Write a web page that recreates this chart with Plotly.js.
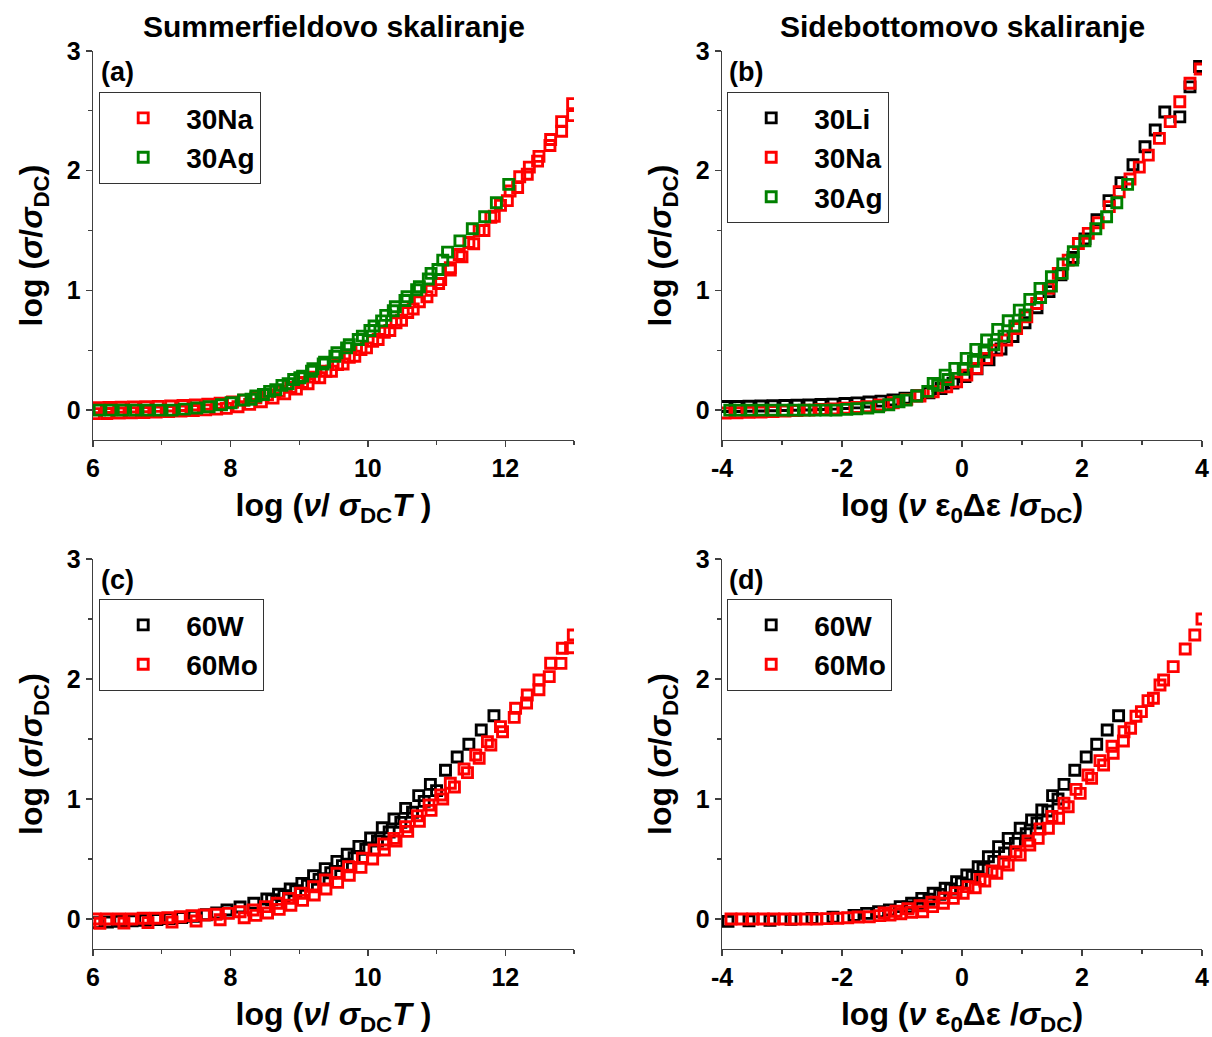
<!DOCTYPE html>
<html>
<head>
<meta charset="utf-8">
<script src="https://cdn.plot.ly/plotly-3.0.1.min.js"></script>
<style>html,body{margin:0;padding:0;background:#fff;}</style>
</head>
<body>
<div id="chart" style="width:1212px;height:1037px;"></div>
<script>
// ---------- Panel (a): Summerfield scaling ----------
const aNaX1 = [6.05,6.23,6.41,6.59,6.77,6.95,7.13,7.31,7.49,7.67,7.85,8.03,8.20,8.37,8.54,8.71,8.88,9.05,9.22,9.39,9.56,9.73,9.90,10.07,10.24,10.41,10.58,10.75,10.92,11.06,11.20,11.33,11.47,11.62,11.79,11.93,12.07,12.21,12.35,12.49,12.66,12.82,12.98];
const aNaY1 = [0.02,0.022,0.024,0.026,0.028,0.031,0.034,0.038,0.043,0.049,0.057,0.068,0.083,0.103,0.127,0.156,0.19,0.23,0.275,0.325,0.38,0.44,0.505,0.575,0.65,0.73,0.815,0.905,1.0,1.09,1.19,1.3,1.40,1.50,1.61,1.71,1.83,1.95,2.03,2.12,2.26,2.41,2.56];
const aNaX2 = [6.02,6.20,6.38,6.56,6.74,6.92,7.10,7.28,7.46,7.64,7.80,7.94,8.11,8.28,8.45,8.62,8.79,8.96,9.13,9.30,9.47,9.64,9.81,9.98,10.15,10.32,10.49,10.66,10.86,11.03,11.20,11.37,11.54,11.69,11.84,12.03,12.18,12.32,12.47,12.65,12.82,12.98];
const aNaY2 = [-0.03,-0.028,-0.025,-0.022,-0.02,-0.017,-0.013,-0.009,-0.004,0.002,0.008,0.014,0.028,0.048,0.069,0.1,0.135,0.175,0.22,0.27,0.325,0.385,0.45,0.52,0.59,0.665,0.75,0.845,0.947,1.058,1.17,1.28,1.39,1.50,1.62,1.75,1.86,1.97,2.08,2.21,2.33,2.46];
const aAgX1 = [6.09,6.26,6.44,6.62,6.80,6.97,7.15,7.33,7.51,7.69,7.87,8.01,8.19,8.37,8.57,8.75,8.92,9.05,9.20,9.37,9.55,9.73,9.92,10.09,10.26,10.40,10.57,10.75,10.92,11.09,11.16,11.34,11.52,11.70,11.87,12.05];
const aAgY1 = [0,0,0,0,0,0,0,0.008,0.017,0.028,0.045,0.061,0.084,0.117,0.156,0.206,0.256,0.284,0.345,0.401,0.479,0.546,0.618,0.702,0.791,0.863,0.947,1.03,1.142,1.253,1.32,1.414,1.515,1.615,1.732,1.886];
const aAgX2 = [8.30,8.48,8.66,8.84,9.01,9.18,9.35,9.52,9.69,9.86,10.03,10.20,10.37,10.54,10.71,10.88,11.02];
const aAgY2 = [0.09,0.13,0.17,0.22,0.27,0.325,0.385,0.45,0.52,0.59,0.665,0.745,0.83,0.915,1.005,1.095,1.175];

// ---------- Panel (b): Sidebottom scaling ----------
const bLiX = [-3.95,-3.75,-3.55,-3.35,-3.15,-2.95,-2.75,-2.55,-2.35,-2.15,-1.95,-1.75,-1.55,-1.35,-1.15,-0.95,-0.75,-0.55,-0.35,-0.15,0.05,0.25,0.45,0.65,0.85,1.05,1.25,1.45,1.65,1.85,2.05,2.25,2.45,2.65,2.85,3.05,3.22,3.38,3.63,3.80,3.96];
const bLiY = [0.03,0.03,0.032,0.034,0.036,0.038,0.04,0.043,0.046,0.05,0.055,0.06,0.067,0.075,0.085,0.1,0.12,0.145,0.18,0.225,0.28,0.345,0.42,0.51,0.615,0.73,0.855,0.99,1.13,1.275,1.43,1.59,1.75,1.9,2.05,2.2,2.34,2.49,2.45,2.70,2.87];
const bNaX = [-3.95,-3.75,-3.55,-3.35,-3.15,-2.95,-2.75,-2.55,-2.35,-2.15,-1.95,-1.75,-1.59,-1.37,-1.145,-0.92,-0.70,-0.48,-0.255,-0.09,0.08,0.245,0.41,0.58,0.745,0.91,1.08,1.245,1.44,1.605,1.77,1.94,2.105,2.27,2.455,2.62,2.80,2.955,3.105,3.29,3.47,3.63,3.80,3.97];
const bNaY = [-0.025,-0.022,-0.019,-0.016,-0.012,-0.008,-0.004,0.0,0.005,0.01,0.015,0.021,0.028,0.042,0.061,0.089,0.117,0.153,0.195,0.236,0.292,0.348,0.432,0.501,0.585,0.682,0.78,0.891,1.017,1.142,1.253,1.392,1.476,1.565,1.70,1.824,1.93,2.03,2.13,2.27,2.41,2.576,2.73,2.85];
const bAgX1 = [-3.87,-3.70,-3.52,-3.34,-3.16,-2.98,-2.81,-2.63,-2.45,-2.27,-2.10,-1.92,-1.755,-1.57,-1.39,-1.22,-1.05,-0.93,-0.755,-0.57,-0.405,-0.23,0.02,0.19,0.37,0.53,0.70,0.88,1.05,1.31,1.49,1.67,1.845,2.05,2.23,2.41,2.58,2.76];
const bAgY1 = [0,0,0,0,0,0,0,0,0,0,0,0.006,0.011,0.017,0.028,0.045,0.07,0.084,0.117,0.156,0.206,0.256,0.34,0.407,0.485,0.546,0.618,0.702,0.794,0.941,1.036,1.142,1.253,1.414,1.515,1.615,1.732,1.886];
const bAgX2 = [-0.48,-0.28,-0.12,0.07,0.23,0.41,0.595,0.77,0.955,1.13,1.30,1.49,1.68,1.855];
const bAgY2 = [0.223,0.292,0.348,0.432,0.507,0.585,0.674,0.746,0.835,0.925,1.017,1.114,1.22,1.323];

// ---------- Panel (c): Summerfield scaling ----------
const cWX1 = [6.03,6.21,6.39,6.57,6.75,6.93,7.11,7.29,7.47,7.65,7.80,7.95,8.14,8.34,8.53,8.70,8.87,9.04,9.21,9.38,9.55,9.70,9.87,10.04,10.21,10.38,10.55,10.74,10.91,11.13,11.30,11.47,11.65,11.835];
const cWY1 = [-0.03,-0.025,-0.02,-0.015,-0.01,-0.005,0.003,0.012,0.022,0.035,0.05,0.075,0.1,0.131,0.167,0.206,0.25,0.297,0.36,0.42,0.48,0.54,0.605,0.675,0.761,0.833,0.922,1.028,1.122,1.239,1.35,1.456,1.575,1.694];
const cWX2 = [8.60,8.78,8.95,9.12,9.29,9.46,9.63,9.80,9.97,10.14,10.31,10.48,10.65,10.82,11.0];
const cWY2 = [0.16,0.195,0.235,0.28,0.33,0.385,0.445,0.51,0.58,0.65,0.725,0.805,0.89,0.98,1.07];
const cMoX1 = [6.03,6.20,6.38,6.56,6.73,6.91,7.09,7.27,7.44,7.62,7.79,7.97,8.14,8.33,8.51,8.68,8.85,9.02,9.21,9.38,9.55,9.72,9.92,10.09,10.23,10.38,10.55,10.72,10.89,11.06,11.20,11.40,11.57,11.74,11.93,12.15,12.32,12.49,12.66,12.83,12.99];
const cMoY1 = [0,0,0,0,0.006,0.006,0.011,0.019,0.028,0.033,0.039,0.047,0.061,0.075,0.103,0.131,0.172,0.214,0.269,0.325,0.381,0.436,0.506,0.575,0.625,0.672,0.769,0.861,0.95,1.033,1.131,1.25,1.367,1.478,1.603,1.756,1.867,1.992,2.131,2.256,2.367];
const cMoX2 = [6.10,6.45,6.80,7.15,7.50,7.85,8.20,8.37,8.54,8.71,8.88,9.05,9.22,9.39,9.56,9.73,9.90,10.07,10.24,10.41,10.58,10.75,10.92,11.09,11.26,11.45,11.62,11.79,11.96,12.13,12.31,12.49,12.64,12.81,12.95];
const cMoY2 = [-0.035,-0.033,-0.03,-0.025,-0.017,-0.006,0.01,0.03,0.05,0.08,0.115,0.155,0.2,0.25,0.305,0.365,0.43,0.5,0.575,0.65,0.73,0.815,0.905,1.0,1.1,1.22,1.34,1.45,1.56,1.68,1.80,1.91,2.02,2.13,2.26];

// ---------- Panel (d): Sidebottom scaling ----------
const dWX1 = [-3.9,-3.55,-3.2,-2.85,-2.5,-2.15,-1.8,-1.59,-1.39,-1.21,-1.03,-0.84,-0.67,-0.48,-0.28,-0.09,0.08,0.27,0.44,0.61,0.77,0.97,1.16,1.33,1.51,1.70,1.88,2.07,2.245,2.42,2.61];
const dWY1 = [-0.02,-0.015,-0.01,-0.003,0.005,0.015,0.03,0.047,0.061,0.075,0.103,0.131,0.172,0.214,0.256,0.311,0.367,0.436,0.519,0.603,0.672,0.756,0.825,0.908,1.028,1.122,1.239,1.35,1.456,1.575,1.694];
const dWX2 = [-0.9,-0.72,-0.55,-0.37,-0.19,-0.01,0.17,0.35,0.53,0.71,0.89,1.07,1.25,1.43,1.60];
const dWY2 = [0.1,0.13,0.165,0.205,0.25,0.3,0.355,0.415,0.48,0.55,0.63,0.71,0.8,0.9,1.0];
const dMoX1 = [-3.85,-3.67,-3.49,-3.31,-3.14,-2.96,-2.78,-2.6,-2.42,-2.255,-2.07,-1.905,-1.73,-1.545,-1.37,-1.20,-1.02,-0.84,-0.655,-0.49,-0.31,-0.145,0.02,0.22,0.38,0.58,0.77,0.97,1.13,1.27,1.44,1.61,1.77,1.97,2.16,2.36,2.52,2.69,2.81,2.99,3.19,3.36,3.52,3.72,3.88,4.0];
const dMoY1 = [0,0,0,0,0,0,0,0,0,0.003,0.006,0.011,0.017,0.019,0.028,0.033,0.044,0.056,0.061,0.103,0.131,0.172,0.214,0.261,0.317,0.381,0.45,0.533,0.617,0.672,0.756,0.839,0.936,1.047,1.172,1.283,1.381,1.483,1.589,1.728,1.839,1.992,2.103,2.25,2.367,2.5];
const dMoX2 = [-1.3,-1.1,-0.9,-0.7,-0.5,-0.3,-0.1,0.1,0.3,0.5,0.7,0.9,1.1,1.3,1.5,1.7,1.9,2.1,2.3,2.5,2.7,2.9,3.1,3.3];
const dMoY2 = [0.05,0.065,0.085,0.11,0.14,0.175,0.22,0.27,0.33,0.4,0.475,0.56,0.65,0.75,0.855,0.965,1.08,1.2,1.32,1.44,1.56,1.69,1.82,1.95];

// ---------- Tick labels and texts ----------
const xTickValsS = [6, 8, 10, 12];
const xTickTextS = ['6', '8', '10', '12'];
const xTickValsB = [-4, -2, 0, 2, 4];
const xTickTextB = ['-4', '-2', '0', '2', '4'];
const yTickVals = [0, 1, 2, 3];
const yTickText = ['0', '1', '2', '3'];
const colTitles = ['Summerfieldovo skaliranje', 'Sidebottomovo skaliranje'];
const panelLabels = ['(a)', '(b)', '(c)', '(d)'];
const yTitle = 'log (<i>σ</i>/<i>σ</i><sub>DC</sub>)';
const xTitleS = 'log (<i>ν</i>/ <i>σ</i><sub>DC</sub><i>T</i> )';
const xTitleB = 'log (<i>ν</i> ε<sub>0</sub>Δε /<i>σ</i><sub>DC</sub>)';

const RED = '#ff0000', GREEN = '#008000', BLACK = '#000000';
const FONT = 'Liberation Sans, Arial, sans-serif';

function sq(x, y, color, ax, legend, name, show) {
  return {
    type: 'scatter', mode: 'markers', x: x, y: y,
    xaxis: 'x' + (ax === 1 ? '' : ax), yaxis: 'y' + (ax === 1 ? '' : ax),
    legend: legend, legendgroup: legend + name, name: name, showlegend: show,
    marker: {symbol: 'square-open', size: 10, color: color, line: {width: 2.9, color: color}},
    hoverinfo: 'skip'
  };
}

const traces = [
  sq(aNaX2, aNaY2, RED, 1, 'legend', '30Na', false),
  sq(aNaX1, aNaY1, RED, 1, 'legend', '30Na', true),
  sq(aAgX2, aAgY2, GREEN, 1, 'legend', '30Ag', false),
  sq(aAgX1, aAgY1, GREEN, 1, 'legend', '30Ag', true),

  sq(bLiX, bLiY, BLACK, 2, 'legend2', '30Li', true),
  sq(bNaX, bNaY, RED, 2, 'legend2', '30Na', true),
  sq(bAgX2, bAgY2, GREEN, 2, 'legend2', '30Ag', false),
  sq(bAgX1, bAgY1, GREEN, 2, 'legend2', '30Ag', true),

  sq(cWX2, cWY2, BLACK, 3, 'legend3', '60W', false),
  sq(cWX1, cWY1, BLACK, 3, 'legend3', '60W', true),
  sq(cMoX2, cMoY2, RED, 3, 'legend3', '60Mo', false),
  sq(cMoX1, cMoY1, RED, 3, 'legend3', '60Mo', true),

  sq(dWX2, dWY2, BLACK, 4, 'legend4', '60W', false),
  sq(dWX1, dWY1, BLACK, 4, 'legend4', '60W', true),
  sq(dMoX2, dMoY2, RED, 4, 'legend4', '60Mo', false),
  sq(dMoX1, dMoY1, RED, 4, 'legend4', '60Mo', true)
];

const W = 1212, H = 1037;
const colX = [[93, 574], [722, 1202]];
const rowY = [[51, 440], [559, 949]];
const xRanges = [[6, 13], [-4, 4]];
const xTV = [xTickValsS, xTickValsB], xTT = [xTickTextS, xTickTextB];
const LINE = '#404040';

function xAxis(col, row, title) {
  return {
    domain: [colX[col][0] / W, colX[col][1] / W], range: xRanges[col],
    showline: true, linecolor: LINE, linewidth: 1.3, mirror: false,
    ticks: 'outside', ticklen: 6, tickwidth: 1.3, tickcolor: LINE,
    tickmode: 'array', tickvals: xTV[col], ticktext: xTT[col],
    showgrid: false, zeroline: false,
    minor: {ticks: 'outside', ticklen: 4, tickwidth: 1.1, tickcolor: LINE, dtick: 1, tick0: 0, showgrid: false},
    tickfont: {family: FONT, size: 25, weight: 'bold', color: '#000'},
    title: {text: title, font: {family: FONT, size: 32, weight: 'bold', color: '#000'}, standoff: 12},
    fixedrange: true
  };
}
function yAxis(col, row) {
  return {
    domain: [1 - rowY[row][1] / H, 1 - rowY[row][0] / H], range: [-0.25, 3],
    showline: true, linecolor: LINE, linewidth: 1.3, mirror: false,
    ticks: 'outside', ticklen: 6, tickwidth: 1.3, tickcolor: LINE,
    tickmode: 'array', tickvals: yTickVals, ticktext: yTickText,
    showgrid: false, zeroline: false,
    minor: {ticks: 'outside', ticklen: 4, tickwidth: 1.1, tickcolor: LINE, dtick: 0.5, tick0: 0, showgrid: false},
    tickfont: {family: FONT, size: 25, weight: 'bold', color: '#000'},
    title: {text: yTitle, font: {family: FONT, size: 32, weight: 'bold', color: '#000'}, standoff: 14},
    fixedrange: true
  };
}
function topAxis(col, row, ov, anc) {
  return {
    overlaying: ov, anchor: anc, side: 'top', range: xRanges[col],
    showline: true, linecolor: LINE, linewidth: 1.3,
    ticks: 'inside', ticklen: 4, tickwidth: 1.1, tickcolor: LINE, dtick: 1, tick0: 0,
    showticklabels: false, showgrid: false, zeroline: false, fixedrange: true
  };
}
function rightAxis(col, row, ov, anc) {
  return {
    overlaying: ov, anchor: anc, side: 'right', range: [-0.25, 3],
    showline: true, linecolor: LINE, linewidth: 1.3,
    ticks: 'inside', ticklen: 4, tickwidth: 1.1, tickcolor: LINE, dtick: 0.5, tick0: 0,
    showticklabels: false, showgrid: false, zeroline: false, fixedrange: true
  };
}

function legendBox(px, py) {
  return {
    x: px / W, y: 1 - py / H, xanchor: 'left', yanchor: 'top',
    bgcolor: 'rgba(255,255,255,1)', bordercolor: '#333', borderwidth: 1.2,
    font: {family: FONT, size: 28, weight: 'bold', color: '#000'},
    itemwidth: 76, tracegroupgap: 0, traceorder: 'normal'
  };
}

const annotations = [];
const colCenters = [(93 + 574) / 2, (722 + 1202) / 2];
colTitles.forEach((t, i) => annotations.push({
  text: t, xref: 'paper', yref: 'paper', x: colCenters[i] / W, y: 1 - 27 / H,
  xanchor: 'center', yanchor: 'middle', showarrow: false,
  font: {family: FONT, size: 30, weight: 'bold', color: '#000'}
}));
const labelPos = [[99, 72], [727, 72], [99, 580], [727, 580]];
panelLabels.forEach((t, i) => annotations.push({
  text: t, xref: 'paper', yref: 'paper', x: labelPos[i][0] / W, y: 1 - labelPos[i][1] / H,
  xanchor: 'left', yanchor: 'middle', showarrow: false,
  font: {family: FONT, size: 27, weight: 'bold', color: '#000'}
}));

const layout = {
  width: W, height: H, margin: {l: 0, r: 0, t: 0, b: 0},
  paper_bgcolor: '#fff', plot_bgcolor: '#fff', showlegend: true,
  xaxis: Object.assign(xAxis(0, 0, xTitleS), {anchor: 'y'}),
  yaxis: Object.assign(yAxis(0, 0), {anchor: 'x'}),
  xaxis2: Object.assign(xAxis(1, 0, xTitleB), {anchor: 'y2'}),
  yaxis2: Object.assign(yAxis(1, 0), {anchor: 'x2'}),
  xaxis3: Object.assign(xAxis(0, 1, xTitleS), {anchor: 'y3'}),
  yaxis3: Object.assign(yAxis(0, 1), {anchor: 'x3'}),
  xaxis4: Object.assign(xAxis(1, 1, xTitleB), {anchor: 'y4'}),
  yaxis4: Object.assign(yAxis(1, 1), {anchor: 'x4'}),
  xaxis5: topAxis(0, 0, 'x', 'y'),
  yaxis5: rightAxis(0, 0, 'y', 'x'),
  xaxis6: topAxis(1, 0, 'x2', 'y2'),
  yaxis6: rightAxis(1, 0, 'y2', 'x2'),
  xaxis7: topAxis(0, 1, 'x3', 'y3'),
  yaxis7: rightAxis(0, 1, 'y3', 'x3'),
  xaxis8: topAxis(1, 1, 'x4', 'y4'),
  yaxis8: rightAxis(1, 1, 'y4', 'x4'),
  legend: legendBox(99, 92),
  legend2: legendBox(727, 92),
  legend3: legendBox(99, 599),
  legend4: legendBox(727, 599),
  annotations: annotations
};

Plotly.newPlot('chart', traces, layout, {displayModeBar: false, staticPlot: true});
</script>
</body>
</html>
